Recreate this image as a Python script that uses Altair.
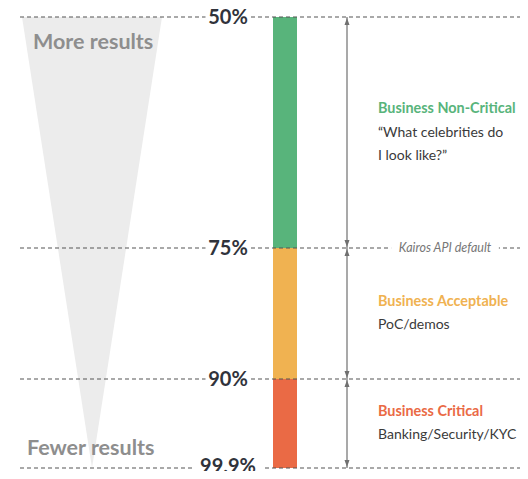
import altair as alt
import pandas as pd

# ---- data ----
thresholds = [50, 75, 90, 99.9]
threshold_labels = ["50%", "75%", "90%", "99.9%"]
seg_lo = [50, 75, 90]
seg_hi = [75, 90, 99.9]
seg_names = ["Business Non-Critical", "Business Acceptable", "Business Critical"]
seg_desc = [["“What celebrities do", "I look like?”"], ["PoC/demos"], ["Banking/Security/KYC"]]
seg_colors = ["#58b47b", "#f0b251", "#ea6a45"]
funnel_level = [50, 99.9]
funnel_width = [1, 0]
funnel_labels = ["More results", "Fewer results"]
default_level = [75]
default_label = ["Kairos API default"]

thr_df = pd.DataFrame({"level": thresholds, "label": threshold_labels})
seg_df = pd.DataFrame({
    "lo": seg_lo,
    "hi": seg_hi,
    "name": seg_names,
    "nlines": [1 + len(d) for d in seg_desc],
    "title_block": [n + "\n" * len(d) for n, d in zip(seg_names, seg_desc)],
    "desc_block": ["\n" + "\n".join(d) for d in seg_desc],
})
fun_df = pd.DataFrame({"level": funnel_level, "w": funnel_width})
top_df = pd.DataFrame({"level": [funnel_level[0]], "label": [funnel_labels[0]]})
bot_df = pd.DataFrame({"level": [funnel_level[1]], "label": [funnel_labels[1]]})
def_df = pd.DataFrame({"level": default_level, "label": default_label})

y_scale = alt.Scale(domain=thresholds, range=[9, 240, 371, 460])
color_scale = alt.Scale(domain=seg_names, range=seg_colors)
FONT = "Lato"
LH = 23.5
LAST = thresholds[-1]

def Y(field):
    return alt.Y(field, type="quantitative", scale=y_scale, axis=None)

funnel = alt.Chart(fun_df).transform_calculate(neg="-datum.w").mark_area(
    orient="horizontal", color="#ececec"
).encode(
    y=Y("level"),
    x=alt.X("neg:Q", scale=alt.Scale(domain=[-1, 1], range=[14, 154]), axis=None),
    x2="w:Q",
)

more_txt = alt.Chart(top_df).mark_text(
    align="left", baseline="middle", dy=26,
    font=FONT, fontSize=21.5, fontWeight="bold", color="#8e8e8e"
).encode(x=alt.value(25), y=Y("level"), text="label:N")

fewer_txt = alt.Chart(bot_df).mark_text(
    align="left", baseline="middle", dy=-19,
    font=FONT, fontSize=21.5, fontWeight="bold", color="#8e8e8e"
).encode(x=alt.value(19), y=Y("level"), text="label:N")

bars = alt.Chart(seg_df).mark_rect().encode(
    y=Y("lo"),
    y2="hi:Q",
    x=alt.value(265),
    x2=alt.value(289),
    color=alt.Color("name:N", scale=color_scale, legend=None),
)

rules = alt.Chart(thr_df).mark_rule(
    color="#555555", strokeDash=[4, 3], strokeWidth=1.1
).encode(
    y=Y("level"),
    x=alt.value(12),
    x2=alt.value(512),
)

boxes = alt.Chart(thr_df).transform_calculate(
    bw="pow(length(datum.label) * 12 + 9, 2)"
).mark_point(
    shape="M-1,-0.25H1V0.25H-1Z", filled=True, color="white", opacity=1, strokeWidth=0
).encode(
    y=Y("level"),
    x=alt.value(220),
    size=alt.Size("bw:Q", scale=None, legend=None),
)

pct_style = dict(font=FONT, fontSize=20, fontWeight="bold", color="#30333b", baseline="middle")
pct = alt.Chart(thr_df).transform_filter(f"datum.level < {LAST}").mark_text(
    dy=1, **pct_style
).encode(y=Y("level"), x=alt.value(220), text="label:N")
pct_last = alt.Chart(thr_df).transform_filter(f"datum.level >= {LAST}").mark_text(
    dy=-1, **pct_style
).encode(y=Y("level"), x=alt.value(220), text="label:N")

shafts = alt.Chart(seg_df).mark_rule(color="#707070", strokeWidth=1.2).encode(
    y=Y("lo"),
    y2="hi:Q",
    x=alt.value(339),
)

up_heads = alt.Chart(seg_df).mark_point(
    shape="M0,0.4L-1,3.2L1,3.2Z", filled=True, color="#707070", size=25, opacity=1
).encode(y=Y("lo"), x=alt.value(339))

down_heads = alt.Chart(seg_df).mark_point(
    shape="M0,-0.4L-1,-3.2L1,-3.2Z", filled=True, color="#707070", size=25, opacity=1
).encode(y=Y("hi"), x=alt.value(339))

def_box = alt.Chart(def_df).mark_point(
    shape="M-1,-0.07H1V0.07H-1Z", filled=True, color="white", opacity=1, size=11600
).encode(y=Y("level"), x=alt.value(437))

def_txt = alt.Chart(def_df).mark_text(
    font=FONT, fontSize=12.5, fontStyle="italic", color="#777777", baseline="middle"
).encode(y=Y("level"), x=alt.value(437), text="label:N")

text_layers = []
for n in sorted(set(seg_df["nlines"])):
    shift = -(n - 1) / 2 * LH
    base = alt.Chart(seg_df).transform_filter(
        f"datum.nlines == {n}"
    ).transform_calculate(mid="(datum.lo + datum.hi) / 2")
    text_layers.append(base.mark_text(
        font=FONT, fontSize=14.4, fontWeight="bold", align="left", baseline="middle",
        lineBreak="\n", lineHeight=LH, dy=shift
    ).encode(
        y=Y("mid"),
        x=alt.value(370),
        text="title_block:N",
        color=alt.Color("name:N", scale=color_scale, legend=None),
    ))
    text_layers.append(base.mark_text(
        font=FONT, fontSize=14, align="left", baseline="middle",
        lineBreak="\n", lineHeight=LH, dy=shift, color="#3a3a3a"
    ).encode(
        y=Y("mid"),
        x=alt.value(370),
        text="desc_block:N",
    ))

chart = alt.layer(
    funnel, more_txt, fewer_txt, bars, rules, boxes, pct, pct_last,
    shafts, up_heads, down_heads, def_box, def_txt, *text_layers
).properties(
    width=512, height=463, padding=0,
    autosize=alt.AutoSizeParams(type="none"),
).configure_view(stroke=None)

chart.save("out.html", embed_options={"renderer": "svg", "actions": False})
